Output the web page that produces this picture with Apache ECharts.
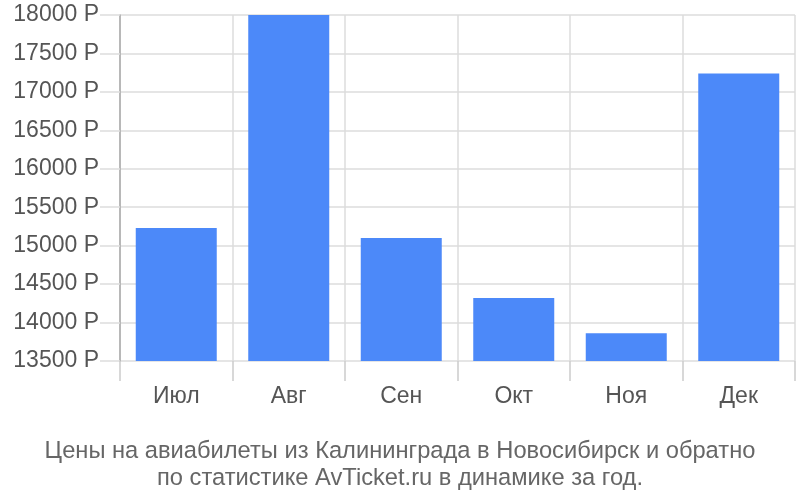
<!DOCTYPE html>
<html lang="ru">
<head>
<meta charset="UTF-8">
<title>Цены на авиабилеты</title>
<script src="https://cdn.jsdelivr.net/npm/echarts@6/dist/echarts.min.js"></script>
<style>
  body { margin: 0; padding: 0; background: #fff; }
  #chart { width: 800px; height: 500px; }
</style>
</head>
<body>
<div id="chart"></div>
<script>
  // месяцы и цены (руб.)
  var months = ['Июл', 'Авг', 'Сен', 'Окт', 'Ноя', 'Дек'];
  var prices = [15230, 18000, 15100, 14320, 13860, 17240];
  // шкала цен
  var yMin = 13500;
  var yMax = 18000;
  var yStep = 500;

  var chart = echarts.init(document.getElementById('chart'));
  chart.setOption({
    animation: false,
    grid: {
      left: 120,
      right: 5,
      top: 15,
      bottom: 139
    },
    title: {
      text: 'Цены на авиабилеты из Калининграда в Новосибирск и обратно\nпо статистике AvTicket.ru в динамике за год.',
      left: 'center',
      top: 433,
      textStyle: {
        color: '#666',
        fontSize: 23.7,
        fontWeight: 'normal',
        fontFamily: 'Liberation Sans',
        lineHeight: 27
      }
    },
    xAxis: {
      type: 'category',
      data: months,
      boundaryGap: true,
      axisLine: { show: false },
      axisTick: {
        show: true,
        length: 20,
        lineStyle: { color: '#ccc', width: 1.5 }
      },
      axisLabel: {
        color: '#555',
        fontSize: 23,
        fontFamily: 'Liberation Sans',
        margin: 24
      },
      splitLine: {
        show: true,
        lineStyle: { color: '#ddd', width: 1.5 }
      }
    },
    yAxis: {
      type: 'value',
      min: yMin,
      max: yMax,
      interval: yStep,
      axisLine: {
        show: true,
        lineStyle: { color: '#aaa', width: 1.5 }
      },
      axisTick: {
        show: true,
        length: 20,
        lineStyle: { color: '#ddd', width: 1.5 }
      },
      axisLabel: {
        color: '#555',
        fontSize: 23,
        fontFamily: 'Liberation Sans',
        margin: 21,
        formatter: function (v) { return v + ' Р'; }
      },
      splitLine: {
        lineStyle: { color: '#ddd', width: 1.5 }
      }
    },
    series: [{
      type: 'bar',
      data: prices,
      barCategoryGap: '28%',
      itemStyle: { color: '#4c89f9' }
    }]
  });
</script>
</body>
</html>
